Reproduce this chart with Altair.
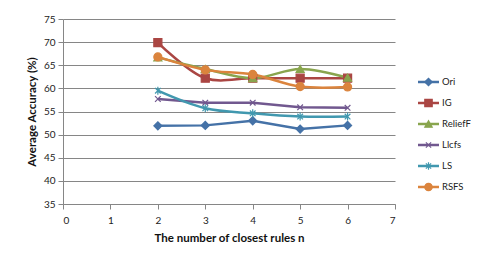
import altair as alt
import pandas as pd

n_values = [2, 3, 4, 5, 6]
series_names = ["Ori", "IG", "ReliefF", "Llcfs", "LS", "RSFS"]
ori = [51.9, 52.0, 53.0, 51.2, 52.0]
ig = [69.9, 62.2, 62.2, 62.2, 62.2]
relieff = [66.7, 64.2, 62.2, 64.2, 62.3]
llcfs = [57.7, 56.9, 56.9, 55.9, 55.8]
ls = [59.5, 55.7, 54.6, 53.9, 53.9]
rsfs = [66.8, 64.0, 63.0, 60.4, 60.3]
x_ticks = [0, 1, 2, 3, 4, 5, 6, 7]
y_ticks = [35, 40, 45, 50, 55, 60, 65, 70, 75]

colors = ["#4572A7", "#AA4643", "#89A54E", "#71588F", "#4198AF", "#DB843D"]
shapes = [
    "diamond",
    "square",
    "triangle-up",
    "M-0.7,-0.7L0.7,0.7M-0.7,0.7L0.7,-0.7",
    "M-0.7,-0.7L0.7,0.7M-0.7,0.7L0.7,-0.7M0,-1L0,1",
    "circle",
]
smooth_series = ["IG", "ReliefF", "LS", "RSFS"]

values = [ori, ig, relieff, llcfs, ls, rsfs]
rows = []
for s, vals in zip(series_names, values):
    for n, v in zip(n_values, vals):
        rows.append({"series": s, "n": n, "acc": v, "order": series_names.index(s)})
df = pd.DataFrame(rows)

FONT = "Lato"
color_scale = alt.Scale(domain=series_names, range=colors)
shape_scale = alt.Scale(domain=series_names, range=shapes)

x_enc = alt.X(
    "n:Q",
    scale=alt.Scale(domain=[0, 7], nice=False),
    axis=alt.Axis(
        values=x_ticks, grid=False, title="The number of closest rules n",
        titleFontWeight="bold", titleFontSize=11.5, titlePadding=7,
        tickSize=5, labelPadding=6, domainColor="#868686", tickColor="#868686",
        labelFontSize=10, labelColor="#222", titleColor="#111",
    ),
)
y_enc = alt.Y(
    "acc:Q",
    scale=alt.Scale(domain=[35, 75], nice=False),
    axis=alt.Axis(
        values=y_ticks, grid=True, gridColor="#868686", gridWidth=1,
        title="Average Accuracy (%)", titleFontWeight="bold", titleFontSize=11.5,
        titlePadding=6, tickSize=5, labelPadding=3, domainColor="#868686",
        tickColor="#868686", labelFontSize=10, labelColor="#222", titleColor="#111",
    ),
)
color_enc = alt.Color("series:N", scale=color_scale, legend=None)

base = alt.Chart(df)
lines_linear = base.transform_filter(
    alt.FieldOneOfPredicate(field="series", oneOf=[s for s in series_names if s not in smooth_series])
).mark_line(strokeWidth=2.5).encode(x=x_enc, y=y_enc, color=color_enc, detail="series:N")
lines_smooth = base.transform_filter(
    alt.FieldOneOfPredicate(field="series", oneOf=smooth_series)
).mark_line(strokeWidth=2.5, interpolate="catmull-rom").encode(x=x_enc, y=y_enc, color=color_enc, detail="series:N")
points = base.mark_point(filled=True, size=65, strokeWidth=1.2, opacity=1).encode(
    x=x_enc, y=y_enc, color=color_enc,
    stroke=alt.Stroke("series:N", scale=color_scale, legend=None),
    shape=alt.Shape("series:N", scale=shape_scale, legend=None),
    order="order:Q",
)
main = alt.layer(lines_linear, lines_smooth, points).properties(width=332, height=185)

leg_df = pd.DataFrame({"series": series_names, "idx": list(range(len(series_names)))})
leg_y = alt.Y("idx:Q", scale=alt.Scale(domain=[-3, 5.81], reverse=True, nice=False, zero=False), axis=None)
leg_base = alt.Chart(leg_df)
leg_rule = leg_base.mark_rule(strokeWidth=2.5).encode(
    x=alt.value(0), x2=alt.value(21), y=leg_y, color=color_enc
)
leg_pts = leg_base.mark_point(filled=True, size=55, strokeWidth=1.2, opacity=1).encode(
    x=alt.value(10.5), y=leg_y, color=color_enc,
    stroke=alt.Stroke("series:N", scale=color_scale, legend=None),
    shape=alt.Shape("series:N", scale=shape_scale, legend=None),
)
leg_txt = leg_base.mark_text(align="left", baseline="middle", fontSize=9.5, font=FONT, color="#222").encode(
    x=alt.value(24), y=leg_y, text="series:N"
)
legend = alt.layer(leg_rule, leg_pts, leg_txt).properties(width=40, height=185)

chart = alt.hconcat(main, legend, spacing=20).properties(
    padding={"left": 18, "top": 6, "right": 0, "bottom": 0}
).configure(font=FONT).configure_view(strokeWidth=0)

chart.save("out.html", embed_options={"renderer": "svg", "actions": False})
